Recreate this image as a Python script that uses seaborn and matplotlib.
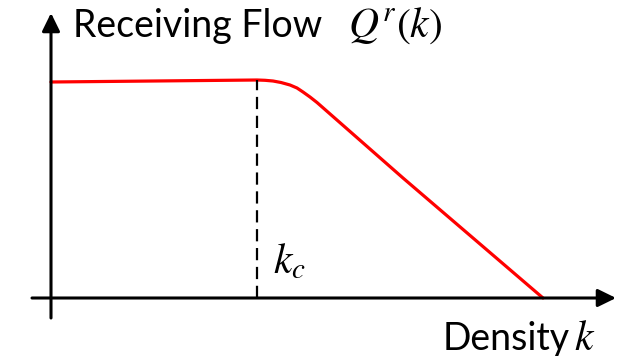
import matplotlib
matplotlib.use("Agg")
import matplotlib.pyplot as plt
import seaborn as sns
import pandas as pd

# Receiving flow curve: flat at capacity up to the critical density,
# then a smooth bend into a straight decline to zero at jam density.
density = [0, 206, 214, 222, 230, 239, 246, 252, 259, 266, 352, 492]
flow = [216, 218, 217.7, 217, 215.5, 213, 210, 206, 201, 195.5, 120, 0]
critical_density = 206
critical_flow = 218

y_label = "Receiving Flow"
y_symbol = r"$Q^r(k)$"
x_label = "Density"
x_symbol = r"$k$"
kc_label = r"$k_c$"

sns.set_theme(style="white")
plt.rcParams["mathtext.fontset"] = "stix"
plt.rcParams["font.family"] = ["Lato", "DejaVu Sans"]

fig = plt.figure(figsize=(6.33, 3.56), dpi=100)
ax = fig.add_axes([0, 0, 1, 1])
ax.set_xlim(-51, 582)
ax.set_ylim(-58, 298)
ax.axis("off")

df = pd.DataFrame({"density": density, "flow": flow})
sns.lineplot(data=df, x="density", y="flow", ax=ax, color="#ff0000",
             lw=2.3, sort=False, estimator=None)

# critical density marker
ax.plot([critical_density, critical_density], [0, critical_flow],
        color="black", lw=1.6, dashes=(5.5, 3))

# axes with arrow heads
arrow = dict(arrowstyle="-|>,head_length=0.55,head_width=0.27",
             mutation_scale=20, lw=2.2, color="black",
             shrinkA=0, shrinkB=0)
ax.annotate("", xy=(0, 285), xytext=(0, -20), arrowprops=arrow)
ax.annotate("", xy=(565, 0), xytext=(-19, 0), arrowprops=arrow)

ax.text(22, 261, y_label, fontsize=27, va="baseline", ha="left", color="black")
ax.text(297, 261, y_symbol, fontsize=30, va="baseline", ha="left", color="black")
ax.text(392, -52, x_label, fontsize=27, va="baseline", ha="left", color="black")
ax.text(523, -52, x_symbol, fontsize=30, va="baseline", ha="left", color="black")
ax.text(222, 25, kc_label, fontsize=30, va="baseline", ha="left", color="black")

fig.savefig("out.png", dpi=100)
